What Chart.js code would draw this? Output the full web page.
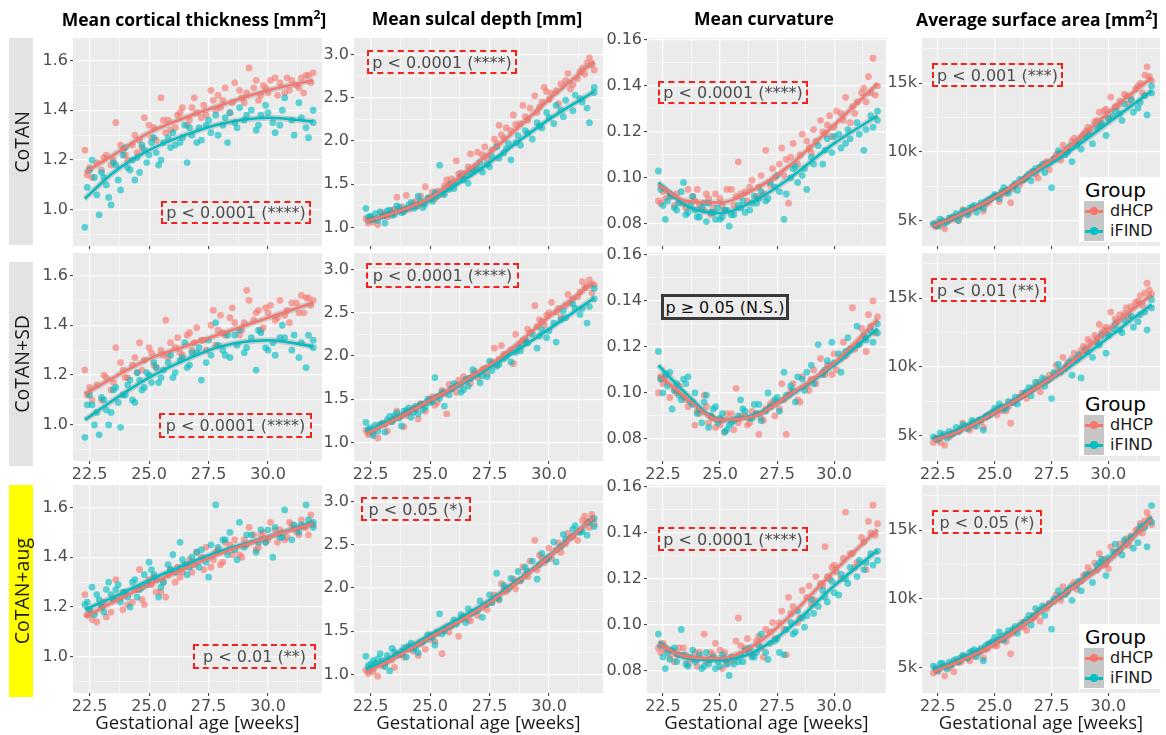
<!DOCTYPE html>
<html>
<head>
<meta charset="utf-8">
<script src="https://cdn.jsdelivr.net/npm/chart.js@4.4.1/dist/chart.umd.min.js"></script>
<style>
  body { margin: 0; background: #fff; }
  #fig { position: relative; width: 1166px; height: 735px; overflow: hidden; }
  #fig canvas { position: absolute; }
  .title { position: absolute; top: 6px; transform: translateX(-50%); white-space: nowrap;
    font: 700 17.5px "Open Sans", sans-serif; color: #000; }
  .xlab { position: absolute; top: 709px; transform: translateX(-50%); white-space: nowrap;
    font: 18.5px "Open Sans", sans-serif; line-height: 26px; color: #1a1a1a; }
  .strip { position: absolute; left: 9px; width: 24px; background: #e3e3e3;
    display: flex; align-items: center; justify-content: center; }
  .strip span { writing-mode: vertical-rl; transform: rotate(180deg); white-space: nowrap;
    font: 19.5px "Open Sans", sans-serif; color: #1a1a1a; }
  .pbox { position: absolute; box-sizing: border-box; border: 2px dashed #f2231f;
    display: flex; align-items: center; justify-content: center; white-space: nowrap;
    font: 16px "DejaVu Sans", sans-serif; color: #4d4d4d; }
  .pbox.ns { border: 3px solid #3a3a3a; color: #111; background: #ececec; }
  .legend { position: absolute; left: 1079px; width: 81px; height: 65px; background: #fff; }
  .legend .lt { position: absolute; left: 6px; top: 0; font: 20px "DejaVu Sans", sans-serif; color: #000; line-height: 26px; }
  .legend .row { position: absolute; left: 5px; height: 20px; width: 76px; }
  .legend .key { position: absolute; left: 0; top: 0; width: 20px; height: 20px; background: #c6c6c6; }
  .legend .key i { position: absolute; left: 1px; right: 1px; top: 9px; height: 2.5px; }
  .legend .key b { position: absolute; left: 6px; top: 6px; width: 8px; height: 8px; border-radius: 50%; }
  .legend .lab { position: absolute; left: 26px; top: 0; font: 16px "DejaVu Sans", sans-serif; line-height: 20px; color: #1a1a1a; }
</style>
</head>
<body>
<div id="fig"></div>
<script>
// gestational ages of the two cohorts (weeks)
const ageD = [22.3, 22.4, 22.8, 23.0, 23.2, 23.5, 23.6, 23.9, 24.0, 24.3,
  24.5, 24.6, 24.8, 25.1, 25.2, 25.5, 25.7, 25.8, 26.1, 26.2,
  26.4, 26.7, 26.9, 27.0, 27.3, 27.4, 27.7, 27.9, 28.0, 28.2,
  28.5, 28.6, 28.9, 29.1, 29.2, 29.4, 29.6, 29.8, 30.0, 30.1,
  30.4, 30.5, 30.8, 30.9, 31.2, 31.4, 31.5, 31.7, 31.8, 31.9,
  22.5, 22.6, 23.1, 23.4, 23.8, 24.1, 24.4, 24.7, 25.0, 25.3,
  25.6, 25.9, 26.3, 26.6, 26.8, 27.2, 27.6, 27.8, 28.1, 28.4,
  28.8, 29.0, 29.5, 29.7, 29.9, 30.3, 30.7, 31.0, 31.3, 31.6];
const ageI = [22.3, 22.5, 22.6, 22.9, 23.1, 23.3, 23.4, 23.6, 23.8, 24.0,
  24.2, 24.4, 24.5, 24.7, 25.0, 25.2, 25.4, 25.6, 25.9, 26.0,
  26.3, 26.5, 26.6, 26.8, 27.1, 27.2, 27.5, 27.6, 27.8, 28.1,
  28.3, 28.4, 28.7, 28.8, 29.0, 29.3, 29.5, 29.7, 29.9, 30.2,
  30.3, 30.6, 30.7, 31.0, 31.1, 31.3, 31.6, 31.7, 31.9, 31.9,
  22.4, 22.7, 22.8, 23.0, 23.2, 23.5, 23.7, 23.9, 24.1, 24.3,
  24.6, 24.8, 24.9, 25.1, 25.3, 25.5, 25.8, 26.1, 26.4, 26.7,
  27.0, 27.4, 27.9, 28.2, 28.6, 29.1, 29.6, 30.0, 30.5, 31.4];
// ages where the smooth fits are read
const fitAge = [22.3, 23.5, 25, 26.5, 28, 30, 31.9];

// mean cortical thickness
const thick_CoTAN_dHCP = [1.24, 1.14, 1.19, 1.16, 1.22, 1.20, 1.35, 1.24, 1.22, 1.26,
  1.23, 1.28, 1.37, 1.29, 1.33, 1.45, 1.31, 1.36, 1.33, 1.38,
  1.41, 1.36, 1.45, 1.39, 1.42, 1.38, 1.44, 1.46, 1.41, 1.49,
  1.43, 1.51, 1.45, 1.47, 1.57, 1.49, 1.44, 1.50, 1.47, 1.52,
  1.46, 1.51, 1.53, 1.48, 1.50, 1.53, 1.47, 1.54, 1.51, 1.55,
  1.17, 1.13, 1.21, 1.18, 1.26, 1.20, 1.30, 1.25, 1.34, 1.28,
  1.36, 1.32, 1.39, 1.34, 1.41, 1.37, 1.48, 1.40, 1.44, 1.39,
  1.48, 1.43, 1.52, 1.46, 1.49, 1.53, 1.47, 1.52, 1.49, 1.54];
const thick_CoTAN_iFIND = [0.93, 1.16, 1.20, 0.98, 1.13, 1.05, 1.02, 1.18, 1.08, 1.25,
  1.16, 1.12, 1.21, 1.26, 1.22, 1.29, 1.18, 1.27, 1.25, 1.31,
  1.27, 1.34, 1.19, 1.30, 1.33, 1.28, 1.36, 1.31, 1.38, 1.34,
  1.27, 1.39, 1.33, 1.41, 1.36, 1.40, 1.32, 1.38, 1.42, 1.35,
  1.31, 1.40, 1.45, 1.36, 1.30, 1.43, 1.33, 1.29, 1.40, 1.35,
  1.09, 1.13, 1.06, 1.15, 1.10, 1.19, 1.12, 1.22, 1.17, 1.20,
  1.15, 1.24, 1.19, 1.27, 1.23, 1.20, 1.29, 1.26, 1.29, 1.33,
  1.27, 1.34, 1.30, 1.37, 1.35, 1.38, 1.34, 1.39, 1.34, 1.37];
const thick_SD_dHCP = [1.22, 1.12, 1.16, 1.10, 1.19, 1.17, 1.31, 1.22, 1.19, 1.24,
  1.21, 1.33, 1.26, 1.29, 1.24, 1.30, 1.42, 1.27, 1.31, 1.35,
  1.28, 1.37, 1.33, 1.39, 1.34, 1.30, 1.46, 1.38, 1.44, 1.36,
  1.47, 1.41, 1.38, 1.54, 1.50, 1.42, 1.46, 1.39, 1.45, 1.48,
  1.43, 1.50, 1.46, 1.41, 1.49, 1.52, 1.45, 1.51, 1.48, 1.50,
  1.15, 1.10, 1.20, 1.14, 1.25, 1.19, 1.27, 1.22, 1.31, 1.23,
  1.28, 1.33, 1.29, 1.36, 1.30, 1.34, 1.40, 1.32, 1.37, 1.43,
  1.36, 1.41, 1.45, 1.38, 1.47, 1.42, 1.44, 1.49, 1.45, 1.51];
const thick_SD_iFIND = [0.95, 1.12, 1.08, 0.96, 1.10, 1.00, 1.05, 1.15, 0.99, 1.12,
  1.18, 1.09, 1.21, 1.14, 1.20, 1.25, 1.17, 1.22, 1.28, 1.19,
  1.26, 1.33, 1.23, 1.29, 1.31, 1.18, 1.34, 1.28, 1.41, 1.30,
  1.36, 1.27, 1.32, 1.38, 1.29, 1.35, 1.22, 1.37, 1.31, 1.33,
  1.28, 1.40, 1.35, 1.30, 1.36, 1.27, 1.23, 1.36, 1.34, 1.31,
  1.08, 1.00, 1.05, 1.11, 1.06, 1.14, 1.09, 1.12, 1.16, 1.10,
  1.18, 1.15, 1.21, 1.17, 1.23, 1.19, 1.25, 1.21, 1.27, 1.24,
  1.29, 1.25, 1.32, 1.28, 1.36, 1.31, 1.38, 1.30, 1.35, 1.33];
const thick_aug_dHCP = [1.25, 1.17, 1.14, 1.20, 1.16, 1.23, 1.31, 1.19, 1.26, 1.22,
  1.27, 1.35, 1.21, 1.29, 1.32, 1.26, 1.24, 1.33, 1.30, 1.36,
  1.34, 1.39, 1.37, 1.42, 1.35, 1.44, 1.39, 1.43, 1.37, 1.46,
  1.41, 1.47, 1.40, 1.45, 1.52, 1.49, 1.44, 1.50, 1.47, 1.54,
  1.46, 1.51, 1.48, 1.54, 1.50, 1.55, 1.52, 1.49, 1.57, 1.53,
  1.19, 1.15, 1.22, 1.18, 1.24, 1.21, 1.27, 1.23, 1.31, 1.26,
  1.30, 1.35, 1.32, 1.37, 1.34, 1.40, 1.36, 1.42, 1.38, 1.45,
  1.41, 1.47, 1.43, 1.49, 1.46, 1.51, 1.47, 1.53, 1.49, 1.52];
const thick_aug_iFIND = [1.21, 1.19, 1.28, 1.23, 1.18, 1.30, 1.25, 1.27, 1.22, 1.26,
  1.20, 1.31, 1.24, 1.28, 1.38, 1.33, 1.24, 1.30, 1.35, 1.41,
  1.46, 1.37, 1.33, 1.40, 1.36, 1.43, 1.32, 1.45, 1.61, 1.47,
  1.41, 1.50, 1.39, 1.54, 1.44, 1.49, 1.42, 1.51, 1.46, 1.40,
  1.52, 1.48, 1.59, 1.47, 1.53, 1.50, 1.61, 1.55, 1.52, 1.54,
  1.22, 1.17, 1.25, 1.20, 1.27, 1.23, 1.29, 1.26, 1.24, 1.30,
  1.27, 1.33, 1.29, 1.35, 1.31, 1.28, 1.37, 1.34, 1.39, 1.36,
  1.42, 1.38, 1.44, 1.47, 1.43, 1.49, 1.46, 1.51, 1.48, 1.53];
const thickFit_CoTAN_dHCP = [1.15, 1.22, 1.31, 1.37, 1.42, 1.48, 1.52];
const thickFit_CoTAN_iFIND = [1.045, 1.15, 1.24, 1.30, 1.345, 1.37, 1.355];
const thickFit_SD_dHCP = [1.125, 1.19, 1.265, 1.315, 1.365, 1.43, 1.49];
const thickFit_SD_iFIND = [1.02, 1.10, 1.19, 1.26, 1.315, 1.34, 1.315];
const thickFit_aug_dHCP = [1.16, 1.22, 1.29, 1.355, 1.415, 1.48, 1.535];
const thickFit_aug_iFIND = [1.19, 1.24, 1.308, 1.37, 1.425, 1.481, 1.541];

// mean sulcal depth
const depth_CoTAN_dHCP = [1.10, 1.05, 1.03, 1.17, 1.12, 1.21, 1.35, 1.20, 1.37, 1.28,
  1.25, 1.36, 1.47, 1.41, 1.33, 1.38, 1.55, 1.50, 1.77, 1.62,
  1.58, 1.85, 1.70, 1.87, 1.93, 1.80, 2.02, 2.18, 2.07, 2.15,
  2.30, 2.19, 2.41, 2.24, 2.38, 2.52, 2.39, 2.62, 2.48, 2.55,
  2.43, 2.66, 2.78, 2.60, 2.72, 2.84, 2.77, 2.96, 2.88, 2.82,
  1.12, 1.06, 1.14, 1.19, 1.24, 1.21, 1.30, 1.27, 1.35, 1.42,
  1.48, 1.56, 1.63, 1.70, 1.66, 1.84, 1.90, 1.97, 2.03, 2.12,
  2.20, 2.28, 2.33, 2.45, 2.57, 2.58, 2.70, 2.65, 2.80, 2.90];
const depth_CoTAN_iFIND = [1.22, 1.13, 1.09, 1.18, 1.05, 1.20, 1.14, 1.25, 1.17, 1.22,
  1.29, 1.24, 1.36, 1.23, 1.33, 1.40, 1.72, 1.38, 1.50, 1.45,
  1.58, 1.62, 1.51, 1.67, 1.75, 1.64, 1.70, 1.82, 1.93, 1.86,
  1.97, 1.78, 2.06, 1.95, 2.12, 2.02, 2.21, 2.15, 2.33, 2.20,
  2.41, 2.28, 2.47, 2.35, 2.53, 2.49, 2.38, 2.21, 2.56, 2.62,
  1.12, 1.16, 1.08, 1.13, 1.19, 1.15, 1.23, 1.18, 1.26, 1.22,
  1.30, 1.27, 1.34, 1.30, 1.36, 1.41, 1.44, 1.52, 1.55, 1.63,
  1.68, 1.73, 1.80, 1.91, 1.98, 2.09, 2.17, 2.27, 2.36, 2.45];
const depth_SD_dHCP = [1.14, 1.09, 1.05, 1.22, 1.13, 1.28, 1.36, 1.18, 1.31, 1.40,
  1.27, 1.45, 1.36, 1.53, 1.43, 1.60, 1.33, 1.67, 1.58, 1.72,
  1.76, 1.68, 1.82, 1.75, 1.86, 1.79, 2.09, 1.96, 2.12, 2.01,
  1.91, 2.25, 2.18, 2.31, 2.27, 2.58, 2.42, 2.36, 2.50, 2.62,
  2.55, 2.45, 2.71, 2.61, 2.68, 2.86, 2.79, 2.88, 2.73, 2.82,
  1.14, 1.10, 1.21, 1.25, 1.31, 1.35, 1.38, 1.44, 1.50, 1.46,
  1.56, 1.62, 1.66, 1.74, 1.78, 1.84, 1.93, 1.90, 2.02, 2.07,
  2.14, 2.19, 2.34, 2.40, 2.47, 2.51, 2.58, 2.66, 2.74, 2.81];
const depth_SD_iFIND = [1.23, 1.17, 1.08, 1.21, 1.12, 1.30, 1.24, 1.34, 1.19, 1.37,
  1.29, 1.42, 1.33, 1.38, 1.46, 1.75, 1.51, 1.42, 1.62, 1.68,
  1.58, 1.73, 1.65, 1.84, 1.69, 1.77, 1.94, 1.83, 1.88, 1.97,
  2.03, 1.93, 2.11, 2.06, 2.18, 2.25, 2.09, 2.30, 2.21, 2.38,
  2.16, 2.52, 2.44, 2.60, 2.55, 2.48, 2.38, 2.57, 2.78, 2.66,
  1.15, 1.20, 1.13, 1.22, 1.26, 1.31, 1.28, 1.36, 1.40, 1.35,
  1.44, 1.41, 1.50, 1.47, 1.53, 1.58, 1.55, 1.66, 1.61, 1.74,
  1.79, 1.76, 1.90, 2.00, 2.04, 2.15, 2.23, 2.29, 2.42, 2.55];
const depth_aug_dHCP = [1.05, 1.01, 0.98, 1.10, 1.15, 1.08, 1.24, 1.20, 1.31, 1.27,
  1.22, 1.35, 1.29, 1.46, 1.38, 1.24, 1.55, 1.49, 1.60, 1.44,
  1.67, 1.62, 1.73, 1.68, 1.80, 1.75, 1.92, 1.86, 2.05, 1.96,
  2.10, 1.99, 2.24, 2.13, 2.31, 2.55, 2.38, 2.29, 2.46, 2.34,
  2.52, 2.41, 2.63, 2.58, 2.55, 2.78, 2.83, 2.70, 2.85, 2.74,
  1.07, 1.03, 1.13, 1.17, 1.23, 1.29, 1.34, 1.38, 1.40, 1.47,
  1.51, 1.56, 1.63, 1.64, 1.71, 1.77, 1.83, 1.89, 1.98, 2.02,
  2.08, 2.16, 2.21, 2.35, 2.32, 2.44, 2.51, 2.60, 2.66, 2.77];
const depth_aug_iFIND = [1.21, 1.12, 1.16, 1.24, 1.09, 1.04, 1.30, 1.22, 1.27, 1.20,
  1.36, 1.31, 1.25, 1.38, 1.44, 1.34, 1.70, 1.50, 1.57, 1.63,
  1.69, 1.60, 1.76, 1.72, 1.85, 1.66, 1.92, 1.83, 2.17, 2.03,
  1.99, 2.11, 2.19, 2.09, 2.24, 2.31, 2.10, 2.40, 2.33, 2.53,
  2.30, 2.62, 2.56, 2.68, 2.72, 2.64, 2.61, 2.76, 2.80, 2.71,
  1.10, 1.13, 1.18, 1.16, 1.22, 1.26, 1.23, 1.31, 1.33, 1.29,
  1.37, 1.40, 1.46, 1.42, 1.49, 1.47, 1.55, 1.58, 1.66, 1.70,
  1.74, 1.81, 1.87, 2.00, 2.07, 2.19, 2.27, 2.36, 2.48, 2.65];
const depthFit_CoTAN_dHCP = [1.07, 1.17, 1.34, 1.64, 1.98, 2.48, 2.92];
const depthFit_CoTAN_iFIND = [1.07, 1.17, 1.32, 1.56, 1.85, 2.25, 2.57];
const depthFit_SD_dHCP = [1.10, 1.26, 1.485, 1.72, 1.99, 2.45, 2.85];
const depthFit_SD_iFIND = [1.12, 1.27, 1.49, 1.70, 1.95, 2.31, 2.67];
const depthFit_aug_dHCP = [1.02, 1.19, 1.43, 1.66, 1.93, 2.36, 2.82];
const depthFit_aug_iFIND = [1.06, 1.22, 1.46, 1.69, 1.95, 2.37, 2.82];

// mean curvature
const curv_CoTAN_dHCP = [0.090, 0.089, 0.092, 0.088, 0.090, 0.087, 0.095, 0.090, 0.095, 0.086,
  0.091, 0.084, 0.093, 0.088, 0.086, 0.095, 0.092, 0.107, 0.094, 0.090,
  0.099, 0.096, 0.093, 0.112, 0.104, 0.100, 0.113, 0.108, 0.089, 0.115,
  0.110, 0.119, 0.113, 0.121, 0.116, 0.125, 0.119, 0.127, 0.122, 0.129,
  0.125, 0.135, 0.131, 0.128, 0.137, 0.133, 0.144, 0.152, 0.136, 0.140,
  0.094, 0.091, 0.093, 0.089, 0.092, 0.088, 0.093, 0.087, 0.091, 0.095,
  0.088, 0.093, 0.096, 0.092, 0.101, 0.097, 0.106, 0.101, 0.109, 0.106,
  0.116, 0.111, 0.120, 0.123, 0.118, 0.128, 0.124, 0.133, 0.139, 0.137];
const curv_CoTAN_iFIND = [0.103, 0.088, 0.082, 0.092, 0.086, 0.094, 0.098, 0.085, 0.092, 0.083,
  0.087, 0.081, 0.089, 0.085, 0.082, 0.086, 0.079, 0.084, 0.087, 0.090,
  0.086, 0.092, 0.089, 0.094, 0.091, 0.098, 0.101, 0.094, 0.082, 0.100,
  0.105, 0.098, 0.104, 0.095, 0.109, 0.114, 0.106, 0.117, 0.111, 0.119,
  0.113, 0.121, 0.117, 0.124, 0.119, 0.112, 0.127, 0.122, 0.125, 0.129,
  0.095, 0.090, 0.093, 0.087, 0.089, 0.084, 0.088, 0.086, 0.083, 0.089,
  0.085, 0.082, 0.087, 0.083, 0.086, 0.084, 0.088, 0.085, 0.089, 0.091,
  0.090, 0.096, 0.093, 0.104, 0.101, 0.106, 0.112, 0.118, 0.115, 0.121];
const curv_SD_dHCP = [0.100, 0.106, 0.098, 0.101, 0.103, 0.097, 0.094, 0.086, 0.092, 0.099,
  0.087, 0.090, 0.085, 0.088, 0.083, 0.091, 0.102, 0.087, 0.090, 0.086,
  0.092, 0.082, 0.088, 0.093, 0.096, 0.090, 0.104, 0.082, 0.099, 0.104,
  0.096, 0.107, 0.101, 0.110, 0.104, 0.115, 0.108, 0.112, 0.117, 0.110,
  0.122, 0.116, 0.137, 0.119, 0.128, 0.118, 0.134, 0.140, 0.126, 0.133,
  0.104, 0.107, 0.100, 0.098, 0.096, 0.091, 0.094, 0.089, 0.086, 0.091,
  0.084, 0.090, 0.087, 0.091, 0.089, 0.095, 0.093, 0.097, 0.101, 0.097,
  0.103, 0.106, 0.109, 0.112, 0.108, 0.115, 0.119, 0.121, 0.124, 0.129];
const curv_SD_iFIND = [0.118, 0.100, 0.108, 0.093, 0.104, 0.097, 0.106, 0.107, 0.095, 0.091,
  0.087, 0.099, 0.085, 0.093, 0.089, 0.083, 0.086, 0.088, 0.097, 0.093,
  0.089, 0.095, 0.091, 0.088, 0.100, 0.094, 0.098, 0.092, 0.109, 0.103,
  0.096, 0.107, 0.101, 0.109, 0.112, 0.121, 0.108, 0.114, 0.122, 0.117,
  0.109, 0.124, 0.119, 0.129, 0.121, 0.125, 0.127, 0.122, 0.130, 0.126,
  0.106, 0.103, 0.109, 0.101, 0.099, 0.104, 0.096, 0.100, 0.093, 0.096,
  0.090, 0.094, 0.087, 0.091, 0.084, 0.087, 0.090, 0.092, 0.089, 0.095,
  0.092, 0.097, 0.099, 0.101, 0.106, 0.104, 0.110, 0.113, 0.118, 0.123];
const curv_aug_dHCP = [0.090, 0.088, 0.086, 0.084, 0.090, 0.087, 0.083, 0.088, 0.082, 0.096,
  0.085, 0.088, 0.092, 0.081, 0.088, 0.084, 0.093, 0.103, 0.090, 0.094,
  0.087, 0.095, 0.086, 0.098, 0.101, 0.094, 0.106, 0.087, 0.112, 0.108,
  0.103, 0.115, 0.117, 0.111, 0.121, 0.118, 0.134, 0.120, 0.126, 0.123,
  0.129, 0.149, 0.131, 0.125, 0.138, 0.124, 0.145, 0.152, 0.139, 0.144,
  0.092, 0.089, 0.087, 0.090, 0.085, 0.088, 0.084, 0.087, 0.089, 0.083,
  0.086, 0.091, 0.088, 0.093, 0.090, 0.097, 0.101, 0.098, 0.105, 0.101,
  0.112, 0.109, 0.117, 0.121, 0.125, 0.120, 0.131, 0.127, 0.136, 0.140];
const curv_aug_iFIND = [0.096, 0.086, 0.081, 0.089, 0.084, 0.098, 0.087, 0.082, 0.089, 0.085,
  0.081, 0.088, 0.083, 0.086, 0.082, 0.085, 0.078, 0.083, 0.087, 0.084,
  0.090, 0.086, 0.088, 0.096, 0.085, 0.092, 0.094, 0.088, 0.087, 0.101,
  0.097, 0.106, 0.099, 0.104, 0.111, 0.108, 0.115, 0.110, 0.119, 0.113,
  0.122, 0.118, 0.125, 0.121, 0.128, 0.124, 0.131, 0.126, 0.132, 0.128,
  0.091, 0.088, 0.085, 0.090, 0.087, 0.083, 0.086, 0.084, 0.087, 0.082,
  0.085, 0.081, 0.084, 0.087, 0.083, 0.086, 0.084, 0.089, 0.086, 0.091,
  0.088, 0.093, 0.098, 0.096, 0.103, 0.105, 0.112, 0.114, 0.120, 0.127];
const curvFit_CoTAN_dHCP = [0.097, 0.090, 0.0893, 0.095, 0.105, 0.123, 0.141];
const curvFit_CoTAN_iFIND = [0.098, 0.088, 0.0847, 0.090, 0.0995, 0.115, 0.127];
const curvFit_SD_dHCP = [0.108, 0.098, 0.0883, 0.0898, 0.0989, 0.113, 0.1318];
const curvFit_SD_iFIND = [0.112, 0.0999, 0.0883, 0.0904, 0.0984, 0.112, 0.128];
const curvFit_aug_dHCP = [0.0919, 0.0862, 0.0855, 0.0912, 0.1033, 0.1234, 0.1414];
const curvFit_aug_iFIND = [0.0926, 0.0855, 0.0847, 0.0883, 0.0984, 0.117, 0.1323];

// average surface area
const area_CoTAN_dHCP = [4700, 4550, 4400, 5000, 5100, 5300, 5800, 5600, 5900, 6000,
  5700, 6200, 6500, 6800, 6400, 7000, 6300, 7300, 7600, 7900,
  8200, 8600, 8100, 8900, 9300, 8700, 9800, 9400, 10500, 10200,
  11000, 10600, 11300, 11800, 11500, 12200, 12900, 13000, 12500, 14000,
  13300, 13700, 14100, 13500, 14600, 15000, 14300, 16200, 15500, 15200,
  4900, 4600, 5200, 5000, 5500, 5900, 6100, 6300, 6800, 6900,
  7200, 7600, 8000, 8500, 8400, 9200, 9500, 9900, 10100, 10800,
  11100, 11500, 12300, 12000, 13100, 13300, 14200, 13900, 14800, 15600];
const area_CoTAN_iFIND = [4800, 4600, 5100, 4900, 5200, 5500, 5000, 5700, 5400, 6000,
  5600, 6300, 5900, 6500, 6900, 6600, 7400, 7000, 7700, 7200,
  8000, 8400, 7900, 8800, 9100, 8500, 7400, 9500, 10100, 9800,
  10400, 9300, 10800, 10200, 11100, 10600, 11700, 12100, 11200, 12600,
  13000, 12300, 13500, 13800, 12900, 13200, 14100, 12700, 14800, 14300,
  4700, 5000, 4800, 5200, 5300, 5500, 5700, 5900, 6100, 6000,
  6400, 6600, 6700, 6800, 7100, 7200, 7500, 8000, 8200, 8600,
  8900, 9200, 9900, 10000, 10500, 11300, 11900, 12400, 12800, 13600];
const area_SD_dHCP = [4500, 4800, 4300, 4900, 5200, 5500, 5900, 5400, 5800, 6100,
  5600, 6300, 6600, 6500, 7000, 6800, 5900, 7400, 7800, 8100,
  7700, 8400, 8900, 8200, 9000, 9400, 10100, 9600, 10700, 10300,
  11000, 10500, 11500, 12000, 11800, 12300, 13100, 12700, 12400, 14000,
  13300, 13800, 14300, 13600, 14700, 15200, 14500, 16100, 15600, 15300,
  4800, 4500, 5100, 5300, 5600, 5700, 6000, 6400, 6700, 6800,
  7100, 7500, 8000, 8300, 8600, 9100, 9500, 9700, 10000, 10600,
  11200, 11400, 12100, 12500, 12900, 13500, 13900, 14400, 14800, 15400];
const area_SD_iFIND = [4900, 4700, 5200, 4800, 5100, 5600, 5300, 5800, 5500, 6100,
  5700, 6200, 5400, 6500, 7000, 7300, 6900, 7500, 7800, 7300,
  8100, 8500, 7900, 8900, 9200, 8600, 7700, 9600, 10200, 9900,
  10400, 9400, 10900, 9200, 11200, 10700, 11800, 12300, 11000, 12800,
  13100, 12500, 13400, 13700, 12900, 13300, 14000, 12700, 14900, 14300,
  4800, 5000, 5100, 5300, 5200, 5500, 5700, 5800, 6000, 6100,
  6400, 6500, 6700, 6900, 7100, 7000, 7400, 7800, 8200, 8500,
  8800, 9100, 9800, 10100, 10600, 11100, 11600, 12300, 12700, 13800];
const area_aug_dHCP = [4600, 4900, 4400, 5000, 4700, 5400, 5800, 5500, 5900, 6100,
  5700, 6300, 6700, 6600, 7100, 6900, 6000, 7500, 7900, 8300,
  7700, 8600, 9100, 8400, 9300, 9700, 10300, 9900, 10900, 10500,
  11200, 10700, 11700, 12300, 12000, 12600, 13300, 12900, 12200, 13800,
  13500, 14000, 14400, 13900, 15000, 15500, 14800, 16300, 15900, 15400,
  4700, 5000, 5200, 5400, 5700, 5800, 6200, 6400, 6600, 7000,
  7300, 7700, 8000, 8500, 8800, 9400, 9800, 10100, 10400, 11000,
  11300, 11800, 12100, 12700, 12500, 13400, 14100, 14600, 15100, 15700];
const area_aug_iFIND = [5100, 4800, 5300, 4900, 5200, 5600, 5400, 5900, 5700, 6200,
  5800, 6400, 5500, 6700, 7200, 7600, 7000, 7700, 8000, 7500,
  8300, 8800, 8100, 9300, 9500, 8800, 7800, 10000, 10600, 10300,
  10800, 9900, 11300, 10600, 11700, 11200, 12400, 12900, 11700, 13400,
  14000, 13200, 14300, 14500, 13700, 14100, 15200, 13800, 16800, 15600,
  5000, 5300, 5100, 5400, 5500, 5700, 5800, 6100, 6300, 6200,
  6600, 6800, 6900, 7000, 7300, 7400, 7800, 8100, 8500, 8800,
  9200, 9600, 10200, 10600, 11000, 11800, 12600, 13000, 13600, 15300];
const areaFit_CoTAN_dHCP = [4600, 5450, 6700, 8300, 10000, 12860, 15400];
const areaFit_CoTAN_iFIND = [4600, 5400, 6700, 8200, 9700, 12130, 14440];
const areaFit_SD_dHCP = [4640, 5350, 6690, 8150, 9800, 12740, 15270];
const areaFit_SD_iFIND = [4700, 5450, 6800, 8150, 9650, 12150, 14540];
const areaFit_aug_dHCP = [4700, 5500, 6750, 8400, 10300, 12750, 15800];
const areaFit_aug_iFIND = [4780, 5600, 6850, 8500, 10400, 12800, 15950];

// axes
const ageTicks = [22.5, 25, 27.5, 30];
const ageMinor = [23.75, 26.25, 28.75, 31.25];
const thickTicks = [1.0, 1.2, 1.4, 1.6];
const thickMinor = [0.9, 1.1, 1.3, 1.5];
const depthTicks = [1.0, 1.5, 2.0, 2.5, 3.0];
const depthMinor = [1.25, 1.75, 2.25, 2.75];
const curvTicks = [0.08, 0.10, 0.12, 0.14, 0.16];
const curvMinor = [0.09, 0.11, 0.13, 0.15];
const areaTicks = [5000, 10000, 15000];
const areaMinor = [7500, 12500, 17500];

const groups = ['dHCP', 'iFIND'];
const methods = ['CoTAN', 'CoTAN+SD', 'CoTAN+aug'];
const pTexts = [
  ['p < 0.0001 (****)', 'p < 0.0001 (****)', 'p < 0.0001 (****)', 'p < 0.001 (***)'],
  ['p < 0.0001 (****)', 'p < 0.0001 (****)', 'p \u2265 0.05 (N.S.)', 'p < 0.01 (**)'],
  ['p < 0.01 (**)', 'p < 0.05 (*)', 'p < 0.0001 (****)', 'p < 0.05 (*)'],
];

const COLORS = {dHCP: '#F8766D', iFIND: '#00BFC4'};
const POINT_COLORS = {dHCP: 'rgba(248,118,109,0.62)', iFIND: 'rgba(0,191,196,0.62)'};

const columns = [
  {title: 'Mean cortical thickness [mm\u00b2]', min: 0.855, max: 1.69, major: thickTicks, minor: thickMinor,
    fmt: (v) => v.toFixed(1), center: 194,
    data: [[thick_CoTAN_dHCP, thick_CoTAN_iFIND, thickFit_CoTAN_dHCP, thickFit_CoTAN_iFIND],
      [thick_SD_dHCP, thick_SD_iFIND, thickFit_SD_dHCP, thickFit_SD_iFIND],
      [thick_aug_dHCP, thick_aug_iFIND, thickFit_aug_dHCP, thickFit_aug_iFIND]]},
  {title: 'Mean sulcal depth [mm]', min: 0.785, max: 3.19, major: depthTicks, minor: depthMinor,
    fmt: (v) => v.toFixed(1), center: 477,
    data: [[depth_CoTAN_dHCP, depth_CoTAN_iFIND, depthFit_CoTAN_dHCP, depthFit_CoTAN_iFIND],
      [depth_SD_dHCP, depth_SD_iFIND, depthFit_SD_dHCP, depthFit_SD_iFIND],
      [depth_aug_dHCP, depth_aug_iFIND, depthFit_aug_dHCP, depthFit_aug_iFIND]]},
  {title: 'Mean curvature', min: 0.0704, max: 0.1608, major: curvTicks, minor: curvMinor,
    fmt: (v) => v.toFixed(2), center: 764,
    data: [[curv_CoTAN_dHCP, curv_CoTAN_iFIND, curvFit_CoTAN_dHCP, curvFit_CoTAN_iFIND],
      [curv_SD_dHCP, curv_SD_iFIND, curvFit_SD_dHCP, curvFit_SD_iFIND],
      [curv_aug_dHCP, curv_aug_iFIND, curvFit_aug_dHCP, curvFit_aug_iFIND]]},
  {title: 'Average surface area [mm\u00b2]', min: 3150, max: 18300, major: areaTicks, minor: areaMinor,
    fmt: (v) => (v / 1000) + 'k', center: 1037,
    data: [[area_CoTAN_dHCP, area_CoTAN_iFIND, areaFit_CoTAN_dHCP, areaFit_CoTAN_iFIND],
      [area_SD_dHCP, area_SD_iFIND, areaFit_SD_dHCP, areaFit_SD_iFIND],
      [area_aug_dHCP, area_aug_iFIND, areaFit_aug_dHCP, areaFit_aug_iFIND]]},
];

// page geometry (plot areas)
const colX = [[73, 322], [354, 603], [647, 886], [922, 1160]];
const rowY = [[38, 246], [253, 461], [485, 693]];
const AXIS_W = 56, PAD_TOP = 14, PAD_RIGHT = 4, AXIS_H = 30;
const X_MIN = 21.8, X_MAX = 32.27;

const pBoxes = [
  [[161, 201, 150, 23], [367, 50, 150, 24], [658, 81, 150, 23], [932, 63, 131, 24]],
  [[159, 413, 153, 25], [366, 263, 153, 25], [661, 294, 128, 26], [931, 278, 115, 24]],
  [[193, 644, 123, 25], [361, 497, 110, 24], [658, 527, 150, 24], [932, 510, 110, 24]],
];
const legendTops = [177, 391, 624];
const stripY = [[38, 245], [262, 466], [485, 697]];

const fig = document.getElementById('fig');

const isIn = (v, list) => list.some((m) => Math.abs(m - v) < 1e-9);

const panelBg = {
  id: 'panelBg',
  beforeDraw(chart) {
    const {ctx, chartArea: a} = chart;
    ctx.save();
    ctx.fillStyle = '#EBEBEB';
    ctx.fillRect(a.left, a.top, a.right - a.left, a.bottom - a.top);
    ctx.restore();
  }
};

const toPoints = (xs, ys) => ys.map((y, i) => ({x: xs[i], y}));

const gridOpts = (major) => ({
  color: '#ffffff',
  lineWidth: (ctx) => isIn(ctx.tick.value, major) ? 1.2 : 0.55,
  tickLength: 3,
  tickWidth: 1,
  tickColor: (ctx) => isIn(ctx.tick.value, major) ? '#333333' : 'rgba(0,0,0,0)',
});

const tickFont = {family: 'DejaVu Sans', size: 16};

const makePanel = (r, c) => {
  const col = columns[c];
  const [l, rt] = colX[c];
  const [t, b] = rowY[r];
  const [dD, dI, fD, fI] = col.data[r];

  const canvas = document.createElement('canvas');
  canvas.width = AXIS_W + (rt - l) + PAD_RIGHT;
  canvas.height = PAD_TOP + (b - t) + AXIS_H;
  canvas.style.left = (l - AXIS_W) + 'px';
  canvas.style.top = (t - PAD_TOP) + 'px';
  fig.appendChild(canvas);

  const fitSet = (ys, g) => ({
    type: 'line', data: toPoints(fitAge, ys), showLine: true,
    borderColor: COLORS[g], borderWidth: 2.6, pointRadius: 0, cubicInterpolationMode: 'monotone',
  });
  const bandSet = (ys) => ({
    type: 'line', data: toPoints(fitAge, ys), showLine: true,
    borderColor: 'rgba(120,120,120,0.28)', borderWidth: 6, pointRadius: 0, cubicInterpolationMode: 'monotone',
  });
  const pointSet = (xs, ys, g) => ({
    label: g, data: toPoints(xs, ys), showLine: false,
    backgroundColor: POINT_COLORS[g], borderWidth: 0, pointRadius: 3.4, pointHoverRadius: 3.4,
  });

  new Chart(canvas, {
    type: 'scatter',
    plugins: [panelBg],
    data: {
      // first dataset is drawn on top
      datasets: [
        fitSet(fD, 'dHCP'),
        fitSet(fI, 'iFIND'),
        bandSet(fD),
        bandSet(fI),
        pointSet(ageI, dI, 'iFIND'),
        pointSet(ageD, dD, 'dHCP'),
      ]
    },
    options: {
      responsive: false,
      animation: false,
      events: [],
      layout: {padding: {top: PAD_TOP, right: PAD_RIGHT, left: 0, bottom: 0}},
      plugins: {legend: {display: false}, tooltip: {enabled: false}},
      scales: {
        x: {
          type: 'linear', min: X_MIN, max: X_MAX,
          afterBuildTicks: (s) => { s.ticks = ageTicks.concat(ageMinor).map((v) => ({value: v})); },
          afterFit: (s) => { s.height = AXIS_H; },
          grid: gridOpts(ageTicks),
          border: {display: false},
          ticks: {
            display: r > 0, autoSkip: false, maxRotation: 0, padding: 1,
            font: tickFont, color: '#4D4D4D',
            callback: (v) => isIn(v, ageTicks) ? v.toFixed(1) : '',
          },
        },
        y: {
          type: 'linear', min: col.min, max: col.max,
          afterBuildTicks: (s) => { s.ticks = col.major.concat(col.minor).filter((v) => v <= col.max).map((v) => ({value: v})); },
          afterFit: (s) => { s.width = AXIS_W; },
          grid: gridOpts(col.major),
          border: {display: false},
          ticks: {
            autoSkip: false, padding: 2,
            font: tickFont, color: '#4D4D4D',
            callback: (v) => isIn(v, col.major) ? col.fmt(v) : '',
          },
        },
      },
    },
  });
};

const addDiv = (cls, style, html) => {
  const d = document.createElement('div');
  d.className = cls;
  Object.assign(d.style, style);
  d.innerHTML = html;
  fig.appendChild(d);
  return d;
};

for (let r = 0; r < 3; r++) {
  for (let c = 0; c < 4; c++) {
    makePanel(r, c);
  }
}

// column titles and axis titles
columns.forEach((col, c) => {
  addDiv('title', {left: col.center + 'px'}, col.title.replace('\u00b2', '<sup style="font-size:12px">2</sup>'));
  addDiv('xlab', {left: ((colX[c][0] + colX[c][1]) / 2) + 'px'}, 'Gestational age [weeks]');
});

// row strips
methods.forEach((m, r) => {
  const s = addDiv('strip', {top: stripY[r][0] + 'px', height: (stripY[r][1] - stripY[r][0]) + 'px'}, '');
  if (r === 2) s.style.background = '#ffff00';
  const sp = document.createElement('span');
  sp.textContent = m;
  s.appendChild(sp);
});

// significance boxes
pTexts.forEach((row, r) => row.forEach((txt, c) => {
  const [x, y, w, h] = pBoxes[r][c];
  const d = addDiv('pbox' + (txt.indexOf('N.S.') >= 0 ? ' ns' : ''),
    {left: x + 'px', top: y + 'px', width: w + 'px', height: h + 'px'}, '');
  d.textContent = txt;
}));

// legends
legendTops.forEach((top) => {
  let html = '<div class="lt">Group</div>';
  groups.forEach((g, i) => {
    html += '<div class="row" style="top:' + (24 + i * 20) + 'px"><div class="key"><i style="background:' + COLORS[g] +
      '"></i><b style="background:' + COLORS[g] + '"></b></div><div class="lab">' + g + '</div></div>';
  });
  addDiv('legend', {top: top + 'px'}, html);
});
</script>
</body>
</html>
